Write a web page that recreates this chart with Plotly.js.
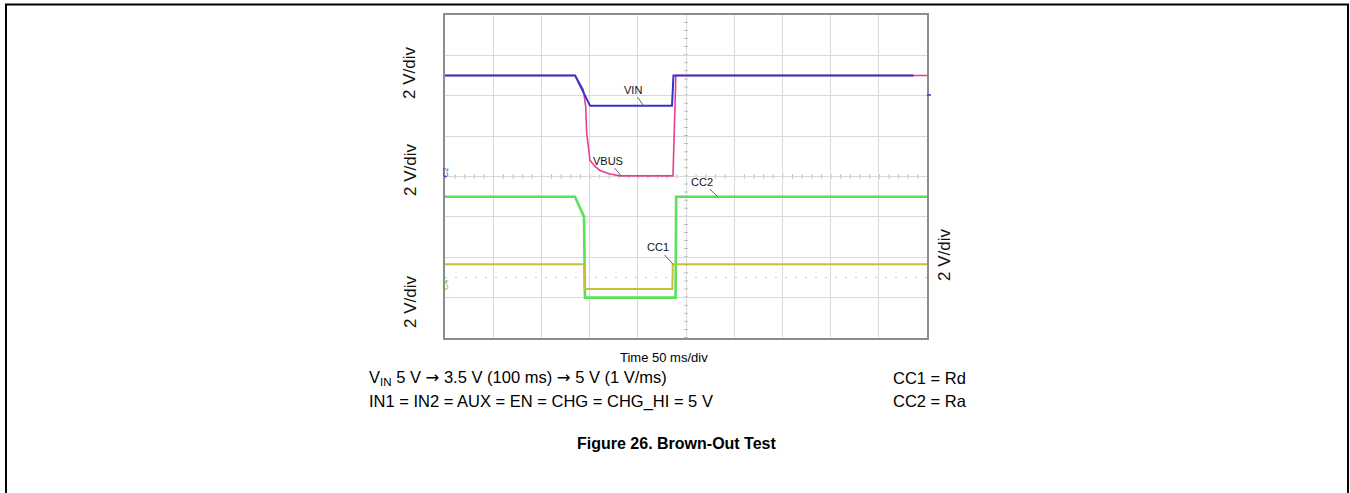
<!DOCTYPE html>
<html><head><meta charset="utf-8">
<script src="https://cdn.plot.ly/plotly-3.0.1.min.js"></script>
<style>html,body{margin:0;padding:0;background:#fff}#chart{width:1350px;height:493px}</style>
</head><body><div id="chart"></div>
<script>
// Time in ms (50 ms/div), voltages in V (2 V/div)
const vinTime   = [0, 135, 150.5, 235.5, 237, 486];
const vinVolts  = [5.0, 5.0, 3.5, 3.5, 5.0, 5.0];

const vbusTime  = [0, 135, 143.5, 146, 147, 148.7, 150.4, 155.6, 160.8, 171.2, 181.5, 236.5, 237.5, 238.5, 239.5, 500];
const vbusVolts = [5.0, 5.0, 4.3, 3.45, 2.15, 1.3, 0.8, 0.5, 0.3, 0.12, 0.03, 0.03, 1.5, 4.0, 5.0, 5.0];

const cc2Time   = [0, 134.9, 144.2, 145.2, 239.2, 239.8, 500];
const cc2Volts  = [5.0, 5.0, 4.0, 0.0, 0.0, 5.0, 5.0];

const cc1Time   = [0, 144.2, 144.8, 235.8, 236.3, 500];
const cc1Volts  = [1.65, 1.65, 0.43, 0.43, 1.65, 1.65];

const channelNames = ['VIN', 'VBUS', 'CC1', 'CC2'];
const labelTimes   = [206, 183.5, 236.5, 283];
const labelVolts   = [3.5, 0.0, 1.65, 5.0];

const voltsPerDiv = 2;
const groundDiv = {VIN: 4, VBUS: 4, CC1: 1, CC2: 1};
const toDiv = (arr, ch) => arr.map(v => groundDiv[ch] + v / voltsPerDiv);

const colors = {VIN: '#3434c8', VBUS: '#e6418f', CC1: '#c9bf34', CC2: '#5be05b'};
const widths = {VIN: 2, VBUS: 1.6, CC1: 2, CC2: 2.6};

const traces = [
  {x: vbusTime, y: toDiv(vbusVolts, 'VBUS'), name: 'VBUS'},
  {x: cc2Time, y: toDiv(cc2Volts, 'CC2'), name: 'CC2'},
  {x: cc1Time, y: toDiv(cc1Volts, 'CC1'), name: 'CC1'},
  {x: vinTime, y: toDiv(vinVolts, 'VIN'), name: 'VIN'}
].map(t => Object.assign(t, {
  type: 'scatter', mode: 'lines', hoverinfo: 'skip',
  line: {color: colors[t.name], width: widths[t.name], shape: 'linear'}
}));

// layout helpers (pixel -> paper) for decorations outside the plot
const L = 445, R = 927, T = 15, B = 338;
const px = x => (x - L) / (R - L);
const py = y => (B - y) / (B - T);

const FONT = 'Liberation Sans, Arial, Helvetica, sans-serif';
const ARROW = '<span style="font-family:DejaVu Sans">→</span>';

const shapes = [
  // outer figure frame (open at bottom)
  {type: 'path', xref: 'paper', yref: 'paper',
   path: `M ${px(6)} ${py(493)} L ${px(6)} ${py(4.5)} L ${px(1348)} ${py(4.5)} L ${px(1348)} ${py(493)}`,
   line: {color: '#000', width: 2}},
  // centre graticule lines with minor ticks
  {type: 'line', xref: 'x', yref: 'y', x0: 250, x1: 250, y0: 0, y1: 8,
   line: {color: '#b4b4b4', width: 4, dash: '1px,7.08px'}, layer: 'below'},
  {type: 'line', xref: 'x', yref: 'y', x0: 0, x1: 500, y0: 4, y1: 4,
   line: {color: '#b4b4b4', width: 4, dash: '1px,8.64px'}, layer: 'below'},
  // dotted cursor line
  {type: 'line', xref: 'x', yref: 'y', x0: 0, x1: 500, y0: 1.5, y1: 1.5,
   line: {color: '#c8c8c8', width: 1, dash: '2px,8px'}, layer: 'below'},
  // small channel marker at right edge
  {type: 'line', xref: 'paper', yref: 'paper', x0: px(927), x1: px(931), y0: py(95), y1: py(95),
   line: {color: '#3434c8', width: 1.5}}
];

const annotations = [];
channelNames.forEach((ch, i) => {
  const offs = {VIN: [-11, -16], VBUS: [-14, -16], CC1: [-15, -17], CC2: [-16, -15]}[ch];
  annotations.push({
    x: labelTimes[i], y: groundDiv[ch] + labelVolts[i] / voltsPerDiv, xref: 'x', yref: 'y',
    text: ch, showarrow: true, arrowhead: 0, arrowwidth: 1, arrowcolor: '#666',
    ax: offs[0], ay: offs[1], standoff: 0,
    font: {family: FONT, size: 11, color: '#111'}
  });
});

// "2 V/div" scale labels
[[410, 73], [410, 170], [410, 302], [945, 255]].forEach(p => {
  annotations.push({xref: 'paper', yref: 'paper', x: px(p[0]), y: py(p[1]),
    text: '2 V/div', textangle: -90, showarrow: false, xanchor: 'center', yanchor: 'middle',
    font: {family: FONT, size: 17, color: '#111'}});
});

// tiny channel ground markers
annotations.push({xref: 'paper', yref: 'paper', x: px(439), y: py(172), text: 'C2', textangle: -90,
  showarrow: false, font: {family: FONT, size: 8, color: '#3434c8'}});
annotations.push({xref: 'paper', yref: 'paper', x: px(439), y: py(292), text: 'C4', textangle: -90,
  showarrow: false, font: {family: FONT, size: 8, color: '#3cb83c'}});

// texts below the plot
const textRows = [
  {x: 664, y: 357, text: 'Time 50 ms/div', anchor: 'center', size: 13, bold: false},
  {x: 367, y: 378, text: `V<sub>IN</sub> 5 V ${ARROW} 3.5 V (100 ms) ${ARROW} 5 V (1 V/ms)`, anchor: 'left', size: 16.5, bold: false},
  {x: 891, y: 378, text: 'CC1 = Rd', anchor: 'left', size: 16.5, bold: false},
  {x: 367, y: 401, text: 'IN1 = IN2 = AUX = EN = CHG = CHG_HI = 5 V', anchor: 'left', size: 16.5, bold: false},
  {x: 891, y: 401, text: 'CC2 = Ra', anchor: 'left', size: 16.5, bold: false},
  {x: 677, y: 443, text: 'Figure 26. Brown-Out Test', anchor: 'center', size: 16, bold: true}
];
textRows.forEach(r => annotations.push({
  xref: 'paper', yref: 'paper', x: px(r.x), y: py(r.y), xanchor: r.anchor, yanchor: 'middle',
  text: r.text, showarrow: false,
  font: {family: FONT, size: r.size, color: '#000', weight: r.bold ? 'bold' : 'normal'}
}));

const axisCommon = {
  showticklabels: false, ticks: '', showgrid: true, gridcolor: '#d9d9d9', gridwidth: 1,
  zeroline: false, showline: true, linecolor: '#8c8c8c', linewidth: 2, mirror: true, fixedrange: true
};

const layout = {
  width: 1350, height: 493,
  margin: {l: L, r: 1350 - R, t: T, b: 493 - B, pad: 0},
  paper_bgcolor: '#fff', plot_bgcolor: '#fff', showlegend: false,
  xaxis: Object.assign({range: [0, 500], dtick: 50, tick0: 0}, axisCommon),
  yaxis: Object.assign({range: [0, 8], dtick: 1, tick0: 0}, axisCommon),
  shapes: shapes, annotations: annotations
};

Plotly.newPlot('chart', traces, layout, {staticPlot: true, displayModeBar: false});
</script>
</body></html>
